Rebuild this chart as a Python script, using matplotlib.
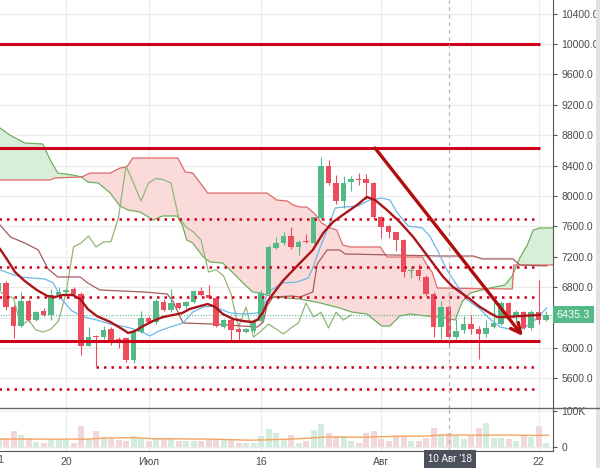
import numpy as np
import pandas as pd
import matplotlib
matplotlib.use('Agg')
import matplotlib.pyplot as plt
import matplotlib.transforms as mtransforms
from matplotlib.patches import Rectangle
from matplotlib.lines import Line2D

plt.rcParams['font.family'] = ['Liberation Sans', 'DejaVu Sans']

# daily candles, day 0 = 11 Jun 2018
opens = [6750, 6860, 6540, 6290, 6620, 6370, 6480, 6430, 6700, 6740,
         6770, 6710, 6030, 6150, 6140, 6250, 6120, 6130, 5840, 6210,
         6394, 6342, 6605, 6500, 6592, 6550, 6605, 6749, 6697, 6657,
         6276, 6368, 6250, 6210, 6223, 6355, 6710, 7315, 7381, 7473,
         7329, 7410, 7381, 7710, 8394, 8170, 7934, 8180, 8230, 8220,
         8170, 7725, 7605, 7526, 7420, 7010, 7030, 6934, 6710, 6276,
         6540, 6144, 6230, 6315, 6250, 6185, 6276, 6315, 6592, 6410,
         6470, 6263, 6470, 6368]
highs = [6900, 6880, 6560, 6740, 6640, 6490, 6530, 6780, 6800, 6790,
         6800, 6730, 6270, 6170, 6290, 6270, 6140, 6150, 6240, 6480,
         6420, 6640, 6640, 6776, 6610, 6620, 6760, 6800, 6829, 6680,
         6380, 6390, 6280, 6260, 6380, 6760, 7360, 7460, 7520, 7592,
         7420, 7500, 7730, 8513, 8480, 8280, 8260, 8260, 8300, 8290,
         8190, 7740, 7620, 7530, 7440, 7080, 7100, 6960, 6730, 6620,
         6560, 6380, 6420, 6440, 6290, 6370, 6631, 6620, 6610, 6500,
         6490, 6500, 6894, 6480]
lows = [6700, 6500, 6130, 6270, 6340, 6350, 6420, 6370, 6650, 6720,
        6690, 5910, 6020, 5760, 6120, 6040, 6000, 5820, 5800, 6200,
        6330, 6320, 6480, 6470, 6510, 6510, 6590, 6680, 6640, 6270,
        6260, 6105, 6100, 6200, 6200, 6340, 6700, 7300, 7350, 7300,
        7223, 7380, 7370, 7700, 8150, 7900, 7842, 8060, 8150, 7960,
        7700, 7450, 7450, 7280, 6934, 6920, 6900, 6690, 6150, 6120,
        6013, 6120, 6200, 6180, 5855, 6150, 6260, 6300, 6380, 6330,
        6250, 6240, 6320, 6360]
closes = [6860, 6540, 6290, 6620, 6370, 6470, 6430, 6700, 6735, 6760,
          6710, 6030, 6150, 6140, 6240, 6060, 6060, 5840, 6210, 6394,
          6342, 6618, 6500, 6592, 6526, 6605, 6749, 6697, 6657, 6289,
          6368, 6236, 6210, 6250, 6355, 6723, 7329, 7381, 7473, 7329,
          7394, 7400, 7720, 8394, 8170, 7934, 8170, 8230, 8215, 8170,
          7725, 7592, 7526, 7420, 7000, 7030, 6950, 6710, 6276, 6540,
          6144, 6223, 6315, 6250, 6185, 6263, 6330, 6592, 6408, 6470,
          6263, 6470, 6368, 6435.3]
volumes_k = [25, 25, 45, 34, 25, 14, 12, 21, 21, 19,
             12, 57, 22, 45, 27, 21, 19, 18, 30, 22,
             18, 22, 22, 25, 18, 16, 16, 18, 21, 22,
             21, 21, 12, 12, 12, 30, 50, 40, 21, 34,
             12, 16, 48, 64, 39, 30, 30, 16, 12, 39,
             45, 22, 16, 31, 31, 18, 16, 25, 54, 36,
             39, 30, 21, 34, 54, 68, 25, 25, 21, 16,
             30, 28, 57, 10]

# indicator lines (day, price)
ma_days = [0.2, 1.1, 2.2, 3.5, 5.1, 6.5, 7.5, 8.6, 9.9, 10.9, 11.9, 13.1, 14.9, 16.5,
           17.3, 18.2, 19.3, 20.6, 21.9, 23.3, 24.5, 25.5, 26.9, 27.9, 28.9, 29.9,
           31.3, 32.6, 33.8, 34.5, 35.3, 35.9, 36.9, 37.9, 38.9, 40.2, 41.9, 43.3,
           44.6, 45.9, 47.8, 49.1, 50.2, 51.8, 53.5, 55.3, 56.6, 57.9, 59.3, 60.6,
           62.5, 64.2, 65.5, 66.5, 67.8, 69.5, 72.2]
ma_vals = [7302, 7171, 7000, 6881, 6763, 6684, 6670, 6697, 6697, 6644, 6513, 6420, 6342, 6249,
           6197, 6223, 6289, 6355, 6407, 6434, 6460, 6513, 6552, 6578, 6539, 6447,
           6381, 6355, 6342, 6368, 6473, 6618, 6750, 6881, 6986, 7118, 7289, 7513,
           7658, 7750, 7881, 7987, 7947, 7815, 7658, 7460, 7289, 7118, 6934, 6802,
           6670, 6539, 6460, 6407, 6407, 6420, 6434]

tenkan_days = [0.2, 2.9, 6.2, 7.3, 8.5, 9.8, 11.5, 13.1, 14.9, 17.1, 18.9, 20.2, 21.1,
               22.9, 24.6, 25.9, 27.3, 28.6, 29.5, 30.9, 32.9, 34.5, 35.3, 35.9, 37.9,
               39.8, 41.3, 41.9, 42.9, 43.8, 44.9, 46.2, 47.9, 49.5, 51.1, 52.2, 53.1,
               54.6, 56.5, 57.5, 58.5, 59.8, 61.1, 62.5, 64.2, 65.5, 66.9, 68.6, 69.8,
               71.1, 73.1]
tenkan_vals = [7026, 6934, 6907, 6855, 6631, 6486, 6407, 6368, 6315, 6276, 6223, 6157, 6210,
               6276, 6328, 6473, 6539, 6552, 6513, 6460, 6447, 6460, 6539, 6736, 6855,
               6868, 6921, 7052, 7329, 7552, 7842, 7855, 7868, 7947, 7973, 7947, 7789,
               7605, 7579, 7473, 7289, 7026, 6828, 6631, 6513, 6381, 6276, 6236, 6250,
               6328, 6526]

kijun_days = [0.2, 1.6, 3.5, 5.3, 6.6, 7.9, 10.9, 11.9, 13.5, 19.5, 22.5, 23.3, 24.6,
              28.6, 34.5, 35.3, 35.8, 36.6, 39.1, 40.2, 41.9, 42.5, 43.8, 45.5, 46.2,
              58.9, 63.3, 64.5, 68.6, 69.5, 73.1]
kijun_vals = [7618, 7460, 7381, 7290, 7040, 6934, 6934, 6855, 6763, 6736, 6710, 6605, 6329,
              6315, 6276, 6342, 6552, 6670, 6684, 6670, 6736, 7105, 7289, 7289, 7237,
              7210, 7210, 7171, 7171, 7092, 7079]

span_a_days = [0.2, 1.5, 3.5, 5.9, 6.9, 7.9, 9.9, 11.1, 11.9, 13.3, 14.9, 16.2, 17.3,
               18.9, 20.6, 21.9, 23.8, 24.5, 25.1, 25.9, 27.3, 28.2, 29.9, 31.3, 32.6,
               33.9, 34.9, 36.6, 38.5, 40.2, 42.9, 45.5, 47.1, 49.1, 51.1, 52.2, 53.5,
               54.9, 57.1, 58.9, 60.9, 61.8, 62.9, 65.5, 67.5, 68.5, 69.5, 70.5, 71.3,
               72.2, 74.0]
span_a_vals = [8895, 8802, 8697, 8684, 8473, 8302, 8276, 8250, 8184, 8171, 8039, 7868, 7815,
               7789, 7684, 7737, 7737, 7618, 7421, 7381, 7197, 7131, 7118, 6986, 6855,
               6736, 6723, 6670, 6657, 6644, 6592, 6526, 6473, 6447, 6289, 6289, 6420,
               6447, 6420, 6407, 6368, 6605, 6723, 6789, 6828, 6947, 7184, 7355, 7552,
               7579, 7579]

span_b_days = [0.2, 6.9, 7.5, 11.1, 12.2, 14.9, 16.2, 17.1, 17.9, 23.9, 24.9, 25.9, 27.9,
               35.8, 37.1, 38.5, 39.3, 40.2, 41.1, 42.2, 43.1, 44.2, 45.1, 45.9, 46.9,
               50.9, 51.8, 56.5, 57.3, 57.8, 58.5, 68.5, 68.7, 74.0]
span_b_vals = [8210, 8210, 8237, 8250, 8302, 8302, 8368, 8381, 8500, 8500, 8316, 8302, 8039,
               8039, 7947, 7934, 7881, 7855, 7855, 7763, 7644, 7579, 7552, 7355, 7329,
               7329, 7197, 7197, 7065, 7000, 6789, 6776, 7092, 7092]

vol_ma_days = [0.2, 5.3, 11.9, 14.5, 18, 20.6, 28.3, 33.4, 36, 41, 43.7, 48.7, 53.3,
               56.4, 59, 64, 69, 71.7, 73.3]
vol_ma_k = [22, 22, 22, 25, 26, 23, 22, 19, 20, 24, 28, 27, 30, 30, 33, 33, 33, 32, 33]

# drawings: levels and the trend arrow
solid_levels = [10005, 8625, 6091]
dotted_levels = [7697, 7062, 6670, 5750, 5460]
dotted_starts = [-2, -2, -2, 13.0, -2]
trend_start = (50.2, 8631)
trend_end = (69.9, 6157)
last_price = 6435.3
cross_day = 60

price_ticks = [5600, 6000, 6800, 7200, 7600, 8000, 8400, 8800, 9200, 9600, 10000, 10400]
tick_days = [0, 9, 20, 35, 51, 63, 72]
tick_labels = ['11', '20', 'Июл', '16', 'Авг', '13', '22']

UP = '#53b987'
DOWN = '#eb4d5c'
LEVEL = '#d0021b'

df = pd.DataFrame({'open': opens, 'high': highs, 'low': lows, 'close': closes,
                   'vol': np.array(volumes_k) * 1000})
df['day'] = np.arange(len(df))
df['up'] = df['close'] >= df['open']

fig = plt.figure(figsize=(6, 4.68), dpi=100)
W, H = 600, 468
ax = fig.add_axes([0, (H - 408) / H, 553 / W, 408 / H])
axv = fig.add_axes([0, (H - 451) / H, 553 / W, 43 / H], sharex=ax)

for a in (ax, axv):
    for s in ('top', 'left'):
        a.spines[s].set_visible(False)
    a.spines['right'].set_color('#555555')
    a.yaxis.tick_right()
    a.tick_params(axis='y', direction='out', length=3, width=0.8, color='#555555',
                  labelsize=7.5, labelcolor='#4a4a4a', pad=3)
    a.set_xticks(tick_days)
    a.grid(True, color='#ebebeb', lw=0.8, zorder=0)
    a.set_axisbelow(True)
ax.spines['bottom'].set_visible(False)
axv.spines['bottom'].set_color('#555555')

ax.set_xlim(0.2, 73.93)
ax.set_ylim(5210, 10579)
ax.set_yticks(price_ticks + [6400])
ax.set_yticklabels([f'{v:.1f}' for v in price_ticks] + [''])
ax.tick_params(axis='x', length=0, labelbottom=False)

# ichimoku cloud
grid = np.union1d(span_a_days, span_b_days)
sa = np.interp(grid, span_a_days, span_a_vals)
sb = np.interp(grid, span_b_days, span_b_vals)
ax.fill_between(grid, sa, sb, where=sa >= sb, interpolate=True, color='#d9eed9', lw=0, zorder=1)
ax.fill_between(grid, sa, sb, where=sa < sb, interpolate=True, color='#fbdada', lw=0, zorder=1)
ax.plot(span_a_days, span_a_vals, color='#6fae5e', lw=0.9, zorder=2)
ax.plot(span_b_days, span_b_vals, color='#de6a6a', lw=0.9, zorder=2)

# lagging span = close shifted back 26 days
chikou = df['close'].shift(-26)
ax.plot(df['day'], chikou, color='#92b678', lw=0.9, zorder=2)
ax.plot(kijun_days, kijun_vals, color='#a65c5c', lw=0.9, zorder=2)
ax.plot(tenkan_days, tenkan_vals, color='#6ab8e8', lw=0.9, zorder=2)

# last price line
ax.axhline(last_price, color=UP, ls=(0, (1, 1.5)), lw=0.8, zorder=2)

# candles
cols = np.where(df['up'], UP, DOWN)
body = (df['close'] - df['open']).abs().clip(lower=14)
bottom = df[['open', 'close']].min(axis=1)
ax.vlines(df['day'], df['low'], df['high'], colors=cols, lw=0.8, zorder=3)
ax.bar(df['day'], body, bottom=bottom, width=0.74, color=cols, lw=0, zorder=4)

ax.plot(ma_days, ma_vals, color='#a8161a', lw=1.7, zorder=5)

# levels
ax.hlines(solid_levels, -2, 72.2, colors=LEVEL, lw=2.2, zorder=6)
for lvl, x0 in zip(dotted_levels, dotted_starts):
    ax.hlines(lvl, x0, 71.6, colors=LEVEL, lw=1.8, linestyles=[(0, (1, 2))], zorder=6)

ax.annotate('', xy=trend_end, xytext=trend_start,
            arrowprops=dict(arrowstyle='->,head_length=0.7,head_width=0.35',
                            color='#b00d0d', lw=2.4, shrinkA=0, shrinkB=0), zorder=7)

# crosshair
for a in (ax, axv):
    a.axvline(cross_day, color='#b5b5b5', lw=0.9, ls=(0, (3, 3)), zorder=6)

# price label
trans = mtransforms.blended_transform_factory(ax.transAxes, ax.transData)
ax.text(1.007, last_price, '6435.3', transform=trans, va='center', ha='left',
        fontsize=7.8, color='white', zorder=10, clip_on=False,
        bbox=dict(boxstyle='square,pad=0.32', fc=UP, ec='none'))

# volume pane
vcols = np.where(df['up'], '#d3ecdb', '#f2d7d9')
axv.bar(df['day'], df['vol'], width=0.8, color=vcols, lw=0, zorder=2)
axv.plot(vol_ma_days, np.array(vol_ma_k) * 1000, color='#f4a460', lw=1.0, zorder=3)
axv.set_ylim(-11100, 108300)
axv.set_yticks([0, 100000])
axv.set_yticklabels(['0', '100K'])
axv.set_xticklabels(tick_labels)
axv.tick_params(axis='x', length=0, labelsize=7.5, labelcolor='#4a4a4a', pad=4)

# first date label sits half outside the chart
xt = mtransforms.blended_transform_factory(axv.transData, axv.transAxes)
axv.text(tick_days[0], -0.09, tick_labels[0], transform=xt, ha='center', va='top',
         fontsize=7.5, color='#4a4a4a', clip_on=False)

# separator between panes and right strip
fig.add_artist(Line2D([0, 1], [(H - 408) / H] * 2, color='#666666', lw=1.0))
fig.add_artist(Rectangle((596 / W, 0), 4 / W, 1, color='#e2e2e2', lw=0))

# crosshair date label
fig.text(450 / W, (H - 459.5) / H, "10 Авг '18", ha='center', va='center', fontsize=7,
         color='white', zorder=10,
         bbox=dict(boxstyle='square,pad=0.45', fc='#4b505b', ec='none'))

fig.savefig('out.png', dpi=100, facecolor='white')
